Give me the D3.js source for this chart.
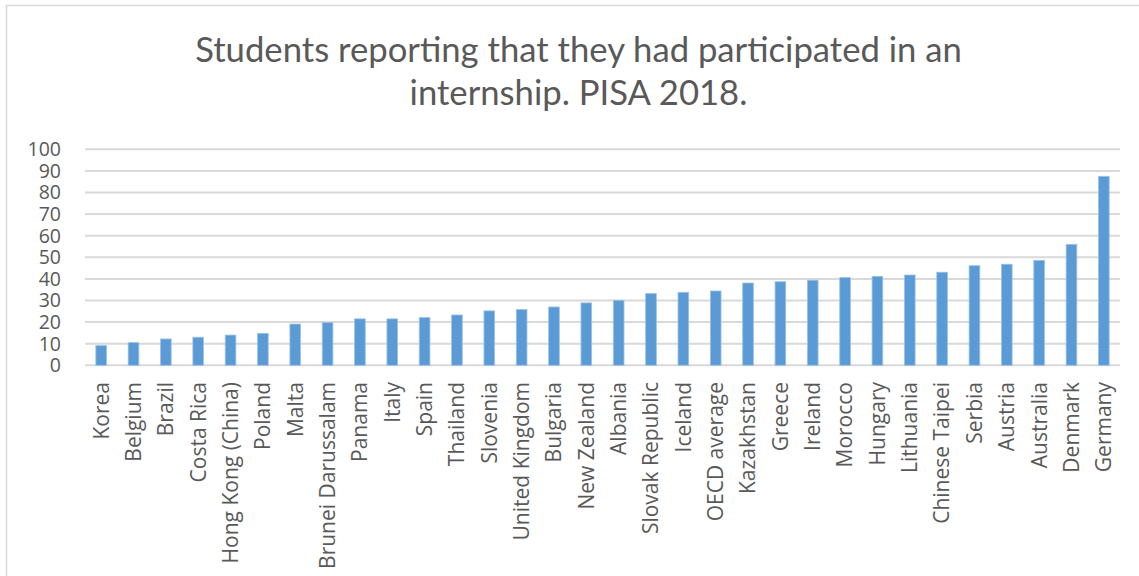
<!DOCTYPE html>
<html>
<head>
<meta charset="utf-8">
<script src="https://cdn.jsdelivr.net/npm/d3@7"></script>
<style>
  body { margin: 0; background: #fff; }
  svg { display: block; }
</style>
</head>
<body>
<div id="canvas"></div>
<script>
const width = 1139;
const height = 576;

// data
const countries = ["Korea", "Belgium", "Brazil", "Costa Rica", "Hong Kong (China)", "Poland", "Malta",
  "Brunei Darussalam", "Panama", "Italy", "Spain", "Thailand", "Slovenia", "United Kingdom", "Bulgaria",
  "New Zealand", "Albania", "Slovak Republic", "Iceland", "OECD average", "Kazakhstan", "Greece", "Ireland",
  "Morocco", "Hungary", "Lithuania", "Chinese Taipei", "Serbia", "Austria", "Australia", "Denmark", "Germany"];
const values = [9.1, 10.5, 12.2, 13.0, 14.0, 14.8, 19.1, 19.8, 21.5, 21.5, 22.1, 23.3, 25.2, 25.8, 27.0,
  28.9, 30.1, 33.2, 33.8, 34.4, 38.1, 38.7, 39.4, 40.6, 41.2, 41.8, 43.1, 46.1, 46.8, 48.6, 56.0, 87.5];
const yTicks = [0, 10, 20, 30, 40, 50, 60, 70, 80, 90, 100];
const titleLines = ["Students reporting that they had participated in an", "internship. PISA 2018."];

const plot = {left: 85, right: 1120, top: 149.3, bottom: 365.3};
const textColor = "#595959";

const svg = d3.select("#canvas")
    .append("svg")
    .attr("width", width)
    .attr("height", height)

// chart frame (runs off the right and bottom of the picture)
svg.append("rect")
    .attr("x", 6.5).attr("y", 5.5)
    .attr("width", width + 20).attr("height", height + 20)
    .attr("fill", "none")
    .attr("stroke", "#D9D9D9")
    .attr("stroke-width", 1.5)

var x = d3.scaleBand(countries, [plot.left, plot.right])
    .paddingInner(0.67)
    .paddingOuter(0.335)

var y = d3.scaleLinear([0, 100], [plot.bottom, plot.top])

// gridlines
svg.append("g")
    .selectAll("line")
    .data(yTicks)
    .join("line")
    .attr("x1", plot.left)
    .attr("x2", plot.right)
    .attr("y1", d => y(d))
    .attr("y2", d => y(d))
    .attr("stroke", "#D9D9D9")
    .attr("stroke-width", 2)

// y labels
svg.append("g")
    .selectAll("text")
    .data(yTicks)
    .join("text")
    .attr("x", 61)
    .attr("y", d => y(d))
    .attr("dy", "0.35em")
    .attr("text-anchor", "end")
    .attr("font-family", "Open Sans")
    .attr("font-size", 19.5)
    .attr("fill", textColor)
    .text(d => d)

// bars
svg.append("g")
    .selectAll("rect")
    .data(countries)
    .join("rect")
    .attr("x", d => x(d))
    .attr("width", x.bandwidth())
    .attr("y", (d, i) => y(values[i]))
    .attr("height", (d, i) => y(0) - y(values[i]))
    .attr("fill", "#5B9BD5")
    .attr("stroke", "#9CC2E8")
    .attr("stroke-width", 0.8)

// x labels, rotated
svg.append("g")
    .selectAll("text")
    .data(countries)
    .join("text")
    .attr("transform", d => `translate(${x(d) + x.bandwidth() / 2},382) rotate(-90)`)
    .attr("dy", "0.35em")
    .attr("text-anchor", "end")
    .attr("font-family", "Open Sans")
    .attr("font-size", 21)
    .attr("fill", textColor)
    .text(d => d)

// title, sized so line one matches the original width
var title = svg.append("g")
    .attr("font-family", "Lato")
    .attr("fill", textColor)
    .attr("text-anchor", "middle")

var t1 = title.append("text").attr("x", 578.5).attr("y", 61.7).attr("font-size", 36).text(titleLines[0])
var w = t1.node().getComputedTextLength()
var fs = 36 * 767 / w
t1.attr("font-size", fs)
title.append("text").attr("x", 578.5).attr("y", 105).attr("font-size", fs).text(titleLines[1])
</script>
</body>
</html>
